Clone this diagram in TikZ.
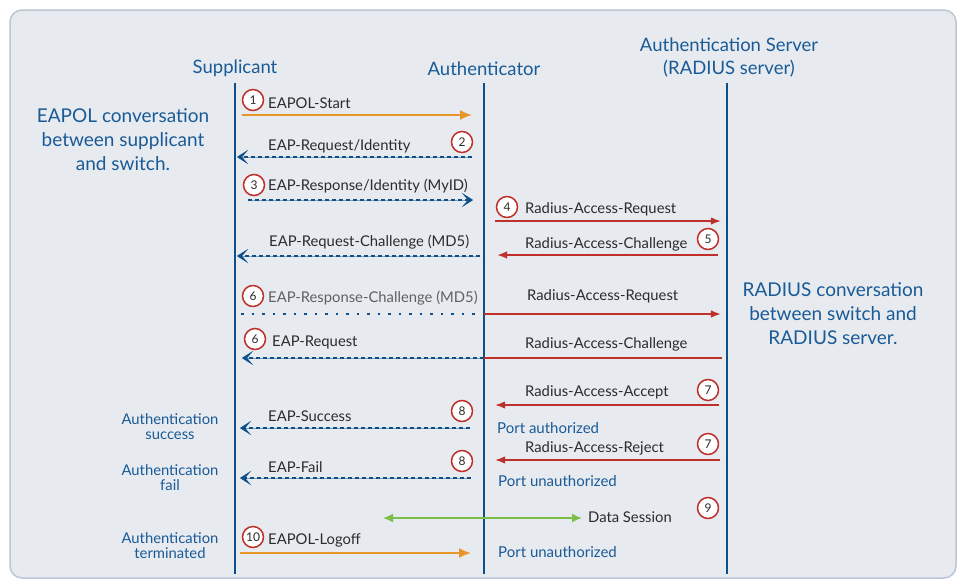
\documentclass[tikz,border=0pt]{standalone}
\usepackage{fontspec}
\setmainfont{Lato}
\usetikzlibrary{arrows.meta,positioning,calc}
\definecolor{sqpanel}{HTML}{E7EBF0}
\definecolor{sqborder}{HTML}{B9C6D4}
\definecolor{sqline}{HTML}{0E4F8A}
\definecolor{sqblue}{HTML}{1A5A96}
\definecolor{sqorange}{HTML}{E8962A}
\definecolor{sqred}{HTML}{C0302A}
\definecolor{sqgreen}{HTML}{7DBD4A}
\definecolor{sqtext}{HTML}{2B2B2B}

\begin{document}
\begin{tikzpicture}[x=1pt,y=-1pt,>=Latex,
    lifeline/.style={sqline,line width=2.6pt},
    actor/.style={text=sqblue,font=\fontsize{18.5}{23}\selectfont,align=center,inner sep=0pt},
    note/.style={text=sqblue,font=\fontsize{19}{24}\selectfont,align=center,inner sep=0pt},
    smallnote/.style={text=sqblue,font=\fontsize{14.8}{15}\selectfont,align=center,inner sep=0pt},
    msglabel/.style={anchor=west,text=sqtext,font=\fontsize{14.8}{15}\selectfont,inner sep=0pt},
    portlabel/.style={anchor=west,text=sqblue,font=\fontsize{15}{15}\selectfont,inner sep=0pt},
    stepnum/.style={circle,draw=sqred,line width=1.5pt,fill=white,minimum size=21pt,inner sep=0pt,
      text=sqtext,font=\fontsize{12}{12}\selectfont},
    eapol/.style={sqorange,line width=1.8pt,-{Latex[length=12pt,width=10pt]}},
    radiusmsg/.style={sqred,line width=1.6pt},
    eapmsg/.style={sqline,line width=1.8pt,dash pattern=on 4pt off 3pt,
      preaction={draw=sqline!55,line width=0.6pt,solid}},
    eaptip/.style={-{Stealth[length=11pt,width=14pt,inset=6pt]}},
    datamsg/.style={sqgreen,line width=1.6pt,{Latex[length=10pt,width=9pt]}-{Latex[length=10pt,width=9pt]}}]

  % panel
  \useasboundingbox (0,0) rectangle (958,579);
  \draw[fill=sqpanel,draw=sqborder,line width=1.5pt,rounded corners=12pt] (10,10) rectangle (956,578);

  % actors and lifelines
  \node[actor] (supp) at (235,68) {Supplicant};
  \node[actor] (auth) at (484,69) {Authenticator};
  \node[actor] (srv) at (729,58) {Authentication Server\\(RADIUS server)};
  \foreach \n/\x in {s/235,a/484,r/727}{
    \coordinate (\n top) at (\x,83);
    \coordinate (\n bot) at (\x,574);
  }
  \draw[lifeline] (stop) -- (sbot);
  \draw[lifeline] (atop) -- (abot);
  \draw[lifeline] (rtop) -- (rbot);

  % side notes
  \node[note] (eapolnote) at (123,140) {EAPOL conversation\\between supplicant\\and switch.};
  \node[note] (radiusnote) at (833,314) {RADIUS conversation\\between switch and\\RADIUS server.};
  \node[smallnote] (oksucc) at (170,427) {Authentication\\success};
  \node[smallnote] (okfail) at (170,478) {Authentication\\fail};
  \node[smallnote] (okterm) at (170,546) {Authentication\\terminated};

  % message end points
  \foreach \n/\x/\y in {m1a/242/115,m1b/472/115,m2a/472/157,m2b/237/157,m3a/248/200,m3b/473/200,
      m4a/495/221,m4b/721/221,m5a/718/255,m5b/497/255,m5c/480/256,m5d/237/256,
      m6a/241/314,m6b/484/314,m6d/721/314,m6e/484/358,m6f/242/358,m6h/722/358,
      m7a/719/405,m7b/495/405,m8a/470/428,m8b/240/428,m7c/720/460,m7d/495/460,
      m8c/471/478,m8d/240/478,m9a/383/518,m9b/582/518,m10a/240/553,m10b/471/553}
    \coordinate (\n) at (\x,\y);

  % messages
  \draw[eapol] (m1a) -- (m1b);
  \draw[eapmsg,eaptip] (m2a) -- (m2b);
  \draw[eapmsg,eaptip] (m3a) -- (m3b);
  \draw[radiusmsg,->] (m4a) -- (m4b);
  \draw[radiusmsg,->] (m5a) -- (m5b);
  \draw[eapmsg,eaptip] (m5c) -- (m5d);
  \draw[sqline,line width=2.2pt,dash pattern=on 2.5pt off 8pt] (m6a) -- (m6b);
  \draw[radiusmsg,->] (m6b) -- (m6d);
  \draw[eapmsg,eaptip] (m6e) -- (m6f);
  \draw[radiusmsg] (m6e) -- (m6h);
  \draw[radiusmsg,->] (m7a) -- (m7b);
  \draw[eapmsg,eaptip] (m8a) -- (m8b);
  \draw[radiusmsg,->] (m7c) -- (m7d);
  \draw[eapmsg,eaptip] (m8c) -- (m8d);
  \draw[datamsg] (m9a) -- (m9b);
  \draw[eapol] (m10a) -- (m10b);

  % labels
  \node[msglabel] (l1) at (268,103) {EAPOL-Start};
  \node[msglabel] (l2) at (268,146) {EAP-Request/Identity};
  \node[msglabel] (l3) at (268,186) {EAP-Response/Identity (MyID)};
  \node[msglabel] (l4) at (525,209) {Radius-Access-Request};
  \node[msglabel] (l5) at (525,244) {Radius-Access-Challenge};
  \node[msglabel] (l5b) at (269,242) {EAP-Request-Challenge (MD5)};
  \node[msglabel,text=sqtext!75] (l6) at (268,298) {EAP-Response-Challenge (MD5)};
  \node[msglabel] (l6b) at (527,296) {Radius-Access-Request};
  \node[msglabel] (l6c) at (272,342) {EAP-Request};
  \node[msglabel] (l6d) at (525,344) {Radius-Access-Challenge};
  \node[msglabel] (l7) at (525,392) {Radius-Access-Accept};
  \node[portlabel] (p1) at (497,428) {Port authorized};
  \node[msglabel] (l8) at (268,416) {EAP-Success};
  \node[msglabel] (l7b) at (525,448) {Radius-Access-Reject};
  \node[portlabel] (p2) at (498,481) {Port unauthorized};
  \node[msglabel] (l8b) at (268,467) {EAP-Fail};
  \node[msglabel] (l9) at (588,517) {Data Session};
  \node[msglabel] (l10) at (268,540) {EAPOL-Logoff};
  \node[portlabel] (p3) at (498,552) {Port unauthorized};

  % step numbers
  \foreach \k/\t/\x/\y in {a/1/253/100,b/2/462/142,c/3/254/185,d/4/507/207,e/5/708/239,f/6/253/296,
      g/6/255/339,h/7/708/390,i/8/462/411,j/7/708/444,k/8/462/461,l/9/708/508,m/10/253/537}
    \node[stepnum] (n\k) at (\x,\y) {\t};
\end{tikzpicture}
\end{document}
